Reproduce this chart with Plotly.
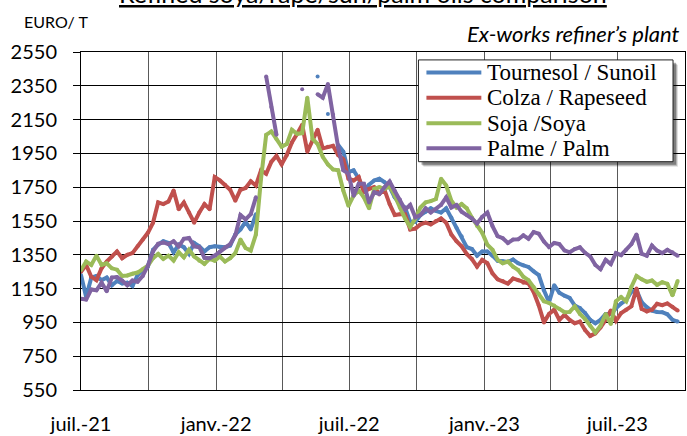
import plotly.graph_objects as go
import pandas as pd

# ---------------- data ----------------
START_DATE = "2021-07-01"   # first weekly observation
STEP = "7D"                 # weekly sampling
END_DATE = "2023-10-01"

series_names = ["Tournesol / Sunoil", "Colza / Rapeseed", "Soja /Soya", "Palme / Palm"]

sunoil = [
    1230, 1100, 1215, 1225, 1200, 1215, 1170, 1195, 1180, 1185,
    1165, 1230, 1260, 1280, 1380, 1410, 1430, 1420, 1365, 1410,
    1395, 1355, 1420, 1400, 1370, 1395, 1400, 1395, 1395, 1405,
    1470, 1500, 1545, 1500, 1590, None, None, None, None, None,
    None, None, None, None, None, None, 2405, None, 2183, None,
    2000, 1960, 1840, 1850, 1800, 1730, 1765, 1790, 1800, 1780,
    1750, 1690, 1650, 1630, 1545, 1545, 1585, 1605, 1625, 1610,
    1600, 1625, 1570, 1510, 1460, 1395, 1384, 1345, 1370, 1370,
    1345, 1315, 1312, 1308, 1322, 1300, 1288, 1278, 1252, 1230,
    1140, 1070, 1170, 1125, 1108, 1095, 1050, 1035, 1005, 965,
    945, 965, 1000, 1000, 1033, 1062, 1082, 1131, 1140, 1070,
    1040, 1020, 1012, 1010, 998, 965, 955,
]

rapeseed = [
    1250, 1290, 1220, 1200, 1270, 1310, 1340, 1370, 1330, 1350,
    1360, 1400, 1440, 1480, 1540, 1660, 1650, 1665, 1730, 1620,
    1660, 1600, 1540, 1600, 1650, 1620, 1810, 1790, 1765, 1735,
    1670, 1735, 1745, 1785, 1760, 1850, 1830, 1900, 1935, 1885,
    1940, 2015, 2065, 2120, 1960, 2025, 2090, 1980, 1990, 1995,
    1940, 1915, 1800, 1790, 1810, 1720, 1740, 1750, 1710, 1735,
    1650, 1585, 1590, 1590, 1500, 1505, 1530, 1540, 1530, 1550,
    1565, 1540, 1470, 1430, 1400, 1355, 1325, 1280, 1320, 1300,
    1240, 1205, 1195, 1180, 1210, 1200, 1185, 1180, 1130, 1050,
    950, 1000, 1025, 965, 995, 965, 945, 955, 905, 870,
    885, 920, 965, 1020, 960, 1005, 1025, 1045, 1150, 1030,
    1015, 1025, 1060, 1052, 1062, 1043, 1020,
]

soya = [
    1260, 1310, 1290, 1345, 1290, 1300, 1270, 1262, 1225, 1228,
    1238, 1245, 1265, 1285, 1330, 1355, 1326, 1345, 1316, 1365,
    1335, 1380, 1340, 1315, 1296, 1326, 1315, 1340, 1310, 1330,
    1360, 1440, 1390, 1375, 1470, 1800, 2060, 2080, 2035, 1990,
    2005, 2090, 2066, 2070, 2280, 2037, 2005, 1930, 1885, 1855,
    1850, 1730, 1640, 1700, 1730, 1690, 1625, 1740, 1750, 1740,
    1755, 1700, 1630, 1565, 1515, 1565, 1630, 1660, 1668, 1680,
    1800, 1760, 1670, 1630, 1650, 1625, 1570, 1520, 1480, 1410,
    1380, 1320, 1300, 1310, 1280, 1260, 1220, 1200, 1160, 1120,
    1075, 1065, 1050, 1030, 1010, 1012, 1045, 1000, 970, 930,
    890, 930, 1000, 940, 1075, 1100, 1075, 1160, 1225, 1205,
    1190, 1198, 1172, 1188, 1178, 1110, 1195,
]

palm = [
    1090, 1085, 1145, 1140, 1185, 1135, 1215, 1218, 1198, 1170,
    1198, 1190, 1225, 1285, 1370, 1415, 1423, 1413, 1430, 1400,
    1445, 1450, 1400, 1395, 1332, 1330, 1345, 1370, 1395, 1413,
    1465, 1585, 1560, 1590, 1690, None, 2405, 2225, 2060, None,
    None, None, None, 2330, None, None, 2300, 2280, 2360, 2180,
    1985, 1850, 1830, 1700, 1770, 1770, 1660, 1720, 1710, 1750,
    1784, 1728, 1677, 1618, 1645, 1572, 1585, 1625, 1600, 1620,
    1645, 1690, 1630, 1645, 1605, 1585, 1565, 1535, 1575, 1600,
    1520, 1460, 1448, 1420, 1440, 1442, 1465, 1445, 1485, 1475,
    1428, 1396, 1420, 1413, 1376, 1365, 1384, 1394, 1362, 1340,
    1290, 1265, 1320, 1295, 1360, 1348, 1380, 1413, 1470, 1356,
    1345, 1405, 1375, 1360, 1380, 1365, 1345,
]

tick_dates = ["2021-07-01", "2021-10-01", "2022-01-01", "2022-04-01", "2022-07-01",
              "2022-10-01", "2023-01-01", "2023-04-01", "2023-07-01", "2023-10-01"]
tick_labels = ["juil.-21", "", "janv.-22", "", "juil.-22", "", "janv.-23", "", "juil.-23", ""]

y_min, y_max, y_step = 550, 2550, 200

title_text = "Refined soya/rape/sun/palm oils comparison"
unit_text = "EURO/ T"
subtitle_text = "Ex-works refiner’s plant"

colors = ["#4F81BD", "#C0504D", "#9BBB59", "#8064A2"]

# ---------------- figure ----------------
W, H = 687, 436
L, R, T, B = 81, 1, 52, 42
PW, PH = W - L - R, H - T - B


def px(x):
    return (x - L) / PW


def py(y):
    return (H - B - y) / PH


dates = pd.date_range(START_DATE, periods=len(sunoil), freq=STEP)
all_series = [sunoil, rapeseed, soya, palm]

fig = go.Figure()
for name, vals, col in zip(series_names, all_series, colors):
    fig.add_trace(go.Scatter(
        x=dates, y=vals, name=name, mode="lines+markers",
        line=dict(color=col, width=4), marker=dict(color=col, size=4),
        connectgaps=False, showlegend=False,
    ))

shapes = []
annotations = []

# manual legend (box with soft shadow, long line samples)
lx0, lx1, ly0, ly1 = 419, 674, 60, 163
for off, alpha in [(5, 0.12), (4, 0.2), (3, 0.3)]:
    shapes.append(dict(type="rect", xref="paper", yref="paper", layer="above",
                       x0=px(lx0 + off), x1=px(lx1 + off), y0=py(ly1 + off), y1=py(ly0 + off),
                       line=dict(width=0), fillcolor=f"rgba(0,0,0,{alpha})"))
shapes.append(dict(type="rect", xref="paper", yref="paper", layer="above",
                   x0=px(lx0), x1=px(lx1), y0=py(ly1), y1=py(ly0),
                   line=dict(color="#222", width=1), fillcolor="white"))
row_y = [72.7, 98.3, 124.0, 149.3]
for name, col, ry in zip(series_names, colors, row_y):
    shapes.append(dict(type="line", xref="paper", yref="paper", layer="above",
                       x0=px(427), x1=px(482), y0=py(ry), y1=py(ry),
                       line=dict(color=col, width=4)))
    annotations.append(dict(xref="paper", yref="paper", x=px(486), y=py(ry),
                            xanchor="left", yanchor="middle", showarrow=False,
                            text=name,
                            font=dict(family="Liberation Serif, Times New Roman, serif",
                                      size=23, color="black")))

annotations.append(dict(xref="paper", yref="paper", x=px(363), y=py(-8),
                        xanchor="center", yanchor="middle", showarrow=False,
                        text=f"<u>{title_text}</u>",
                        font=dict(family="Lato", size=25, color="black")))
annotations.append(dict(xref="paper", yref="paper", x=px(22), y=py(21),
                        xanchor="left", yanchor="middle", showarrow=False,
                        text=unit_text,
                        font=dict(family="Lato", size=16, color="black")))
annotations.append(dict(xref="paper", yref="paper", x=px(683), y=py(33),
                        xanchor="right", yanchor="middle", showarrow=False,
                        text=f"<i>{subtitle_text}</i>",
                        font=dict(family="Lato", size=22, color="black")))

fig.update_layout(
    width=W, height=H,
    margin=dict(l=L, r=R, t=T, b=B, pad=0),
    paper_bgcolor="white", plot_bgcolor="white",
    font=dict(family="Lato", size=20, color="black"),
    showlegend=False,
    shapes=shapes, annotations=annotations,
    xaxis=dict(
        type="date", range=[START_DATE, END_DATE],
        tickmode="array", tickvals=tick_dates, ticktext=tick_labels,
        showgrid=True, gridcolor="#595959", gridwidth=1,
        ticks="", ticklabelstandoff=16,
        showline=True, linecolor="black", linewidth=1, mirror=True,
        zeroline=False, tickfont=dict(family="Lato", size=20, color="black"),
    ),
    yaxis=dict(
        range=[y_min, y_max], tick0=y_min, dtick=y_step,
        showgrid=True, gridcolor="black", gridwidth=1,
        ticks="outside", ticklen=7, tickcolor="black", tickwidth=1,
        ticklabelstandoff=12,
        showline=True, linecolor="black", linewidth=1, mirror=True,
        zeroline=False, tickfont=dict(family="Lato", size=20, color="black"),
    ),
)

fig.write_html(
    "out.html",
    config={"displayModeBar": False},
    post_script="document.body.style.margin='0';document.body.style.overflow='hidden';",
)
